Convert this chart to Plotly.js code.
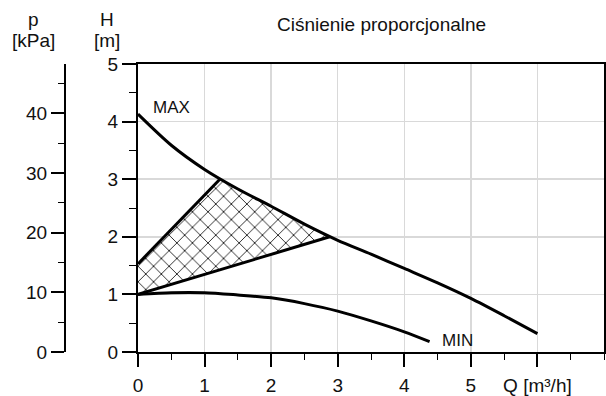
<!DOCTYPE html>
<html>
<head>
<meta charset="utf-8">
<script src="https://cdn.plot.ly/plotly-3.0.1.min.js"></script>
<style>html,body{margin:0;padding:0;background:#fff;}#chart{width:606px;height:396px;}</style>
</head>
<body>
<div id="chart"></div>
<script>
// Data
const maxQ = [0, 0.5, 1, 1.5, 2, 2.5, 3, 3.5, 4, 4.5, 5, 5.5, 6];
const maxH = [4.13, 3.59, 3.17, 2.83, 2.53, 2.22, 1.94, 1.7, 1.45, 1.2, 0.93, 0.63, 0.32];
const minQ = [0, 0.5, 1, 1.5, 2, 2.5, 3, 3.5, 4, 4.38];
const minH = [1.0, 1.03, 1.03, 0.99, 0.94, 0.84, 0.71, 0.54, 0.35, 0.18];
const upperQ = [0, 1.23];
const upperH = [1.53, 3.0];
const lowerQ = [0, 2.88];
const lowerH = [1.0, 2.0];
const hatchQ = [0, 0, 1.23, 1.5, 2, 2.5, 2.88, 0];
const hatchH = [1.0, 1.53, 3.0, 2.83, 2.53, 2.22, 2.0, 1.0];
const xTickVals = [0, 1, 2, 3, 4, 5, 6];
const xTickText = ['0', '1', '2', '3', '4', '5', 'Q [m³/h]'];
const hTickVals = [0, 1, 2, 3, 4, 5];
const pTickVals = [0, 10, 20, 30, 40];
const title = 'Ciśnienie proporcjonalne';

const FONT = 'Liberation Sans, Arial, Helvetica, sans-serif';
const TXT = '#111';
const FS = 19;

const traces = [
  {x: hatchQ, y: hatchH, type: 'scatter', mode: 'lines', fill: 'toself', fillcolor: 'white',
   fillpattern: {shape: 'x', size: 11, solidity: 0.15, fgcolor: '#111', bgcolor: 'white'},
   line: {width: 0, color: 'rgba(0,0,0,0)'}, hoverinfo: 'skip'},
  {x: maxQ, y: maxH, type: 'scatter', mode: 'lines', line: {color: '#000', width: 3, shape: 'spline', smoothing: 0.8}},
  {x: minQ, y: minH, type: 'scatter', mode: 'lines', line: {color: '#000', width: 3, shape: 'spline', smoothing: 0.8}},
  {x: upperQ, y: upperH, type: 'scatter', mode: 'lines', line: {color: '#000', width: 3}},
  {x: lowerQ, y: lowerH, type: 'scatter', mode: 'lines', line: {color: '#000', width: 3}},
  {x: [], y: [], type: 'scatter', mode: 'lines', yaxis: 'y2', hoverinfo: 'skip'}
];

const L = 55, R = 2, T = 64, B = 44, W = 606, Hh = 396;
const pw = W - L - R, ph = Hh - T - B;
const px = v => (v - L) / pw;
const py = v => (Hh - B - v) / ph;

const layout = {
  width: W, height: Hh,
  margin: {l: L, r: R, t: T, b: B, pad: 0},
  paper_bgcolor: 'white', plot_bgcolor: 'white',
  showlegend: false,
  font: {family: FONT, size: FS, color: TXT},
  xaxis: {
    domain: [px(138), 1], range: [0, 7], fixedrange: true,
    tickmode: 'array', tickvals: xTickVals, ticktext: xTickText,
    ticks: 'outside', ticklen: 13, tickwidth: 2, tickcolor: '#000',
    ticklabelstandoff: 2,
    showline: true, linewidth: 2, linecolor: '#000', mirror: true,
    showgrid: true, gridcolor: '#d9d9d9', gridwidth: 1.5, zeroline: false,
    tickfont: {family: FONT, size: FS, color: TXT},
    minor: {dtick: 0.5, ticks: 'outside', ticklen: 6, tickwidth: 1, tickcolor: '#000', showgrid: false}
  },
  yaxis: {
    range: [0, 5], fixedrange: true, anchor: 'x',
    tickmode: 'array', tickvals: hTickVals,
    ticks: 'outside', ticklen: 14, tickwidth: 2, tickcolor: '#000',
    showline: true, linewidth: 2, linecolor: '#000', mirror: true,
    showgrid: true, gridcolor: '#d9d9d9', gridwidth: 1.5, zeroline: false,
    tickfont: {family: FONT, size: FS, color: TXT},
    minor: {dtick: 0.5, ticks: 'outside', ticklen: 7, tickwidth: 1, tickcolor: '#000', showgrid: false}
  },
  yaxis2: {
    overlaying: 'y', anchor: 'free', position: px(65), side: 'left',
    range: [0, 48.3], fixedrange: true,
    tickmode: 'array', tickvals: pTickVals,
    ticks: 'outside', ticklen: 13, tickwidth: 2, tickcolor: '#000',
    showline: true, linewidth: 2, linecolor: '#000',
    showgrid: false, zeroline: false,
    tickfont: {family: FONT, size: FS, color: TXT},
    minor: {dtick: 5, ticks: 'outside', ticklen: 6, tickwidth: 1, tickcolor: '#000', showgrid: false}
  },
  annotations: [
    {text: title, xref: 'paper', yref: 'paper', x: px(381.5), y: py(25), xanchor: 'center', yanchor: 'middle', showarrow: false, font: {size: FS}},
    {text: 'p', xref: 'paper', yref: 'paper', x: px(33), y: py(19), xanchor: 'center', yanchor: 'middle', showarrow: false},
    {text: '[kPa]', xref: 'paper', yref: 'paper', x: px(33), y: py(40), xanchor: 'center', yanchor: 'middle', showarrow: false},
    {text: 'H', xref: 'paper', yref: 'paper', x: px(107), y: py(19), xanchor: 'center', yanchor: 'middle', showarrow: false},
    {text: '[m]', xref: 'paper', yref: 'paper', x: px(107), y: py(40), xanchor: 'center', yanchor: 'middle', showarrow: false},
    {text: 'MAX', xref: 'x', yref: 'y', x: 0.51, y: 4.25, xanchor: 'center', yanchor: 'middle', showarrow: false, font: {size: 17}},
    {text: 'MIN', xref: 'x', yref: 'y', x: 4.8, y: 0.2, xanchor: 'center', yanchor: 'middle', showarrow: false, font: {size: 17}}
  ]
};

Plotly.newPlot('chart', traces, layout, {staticPlot: true, displayModeBar: false});
</script>
</body>
</html>
